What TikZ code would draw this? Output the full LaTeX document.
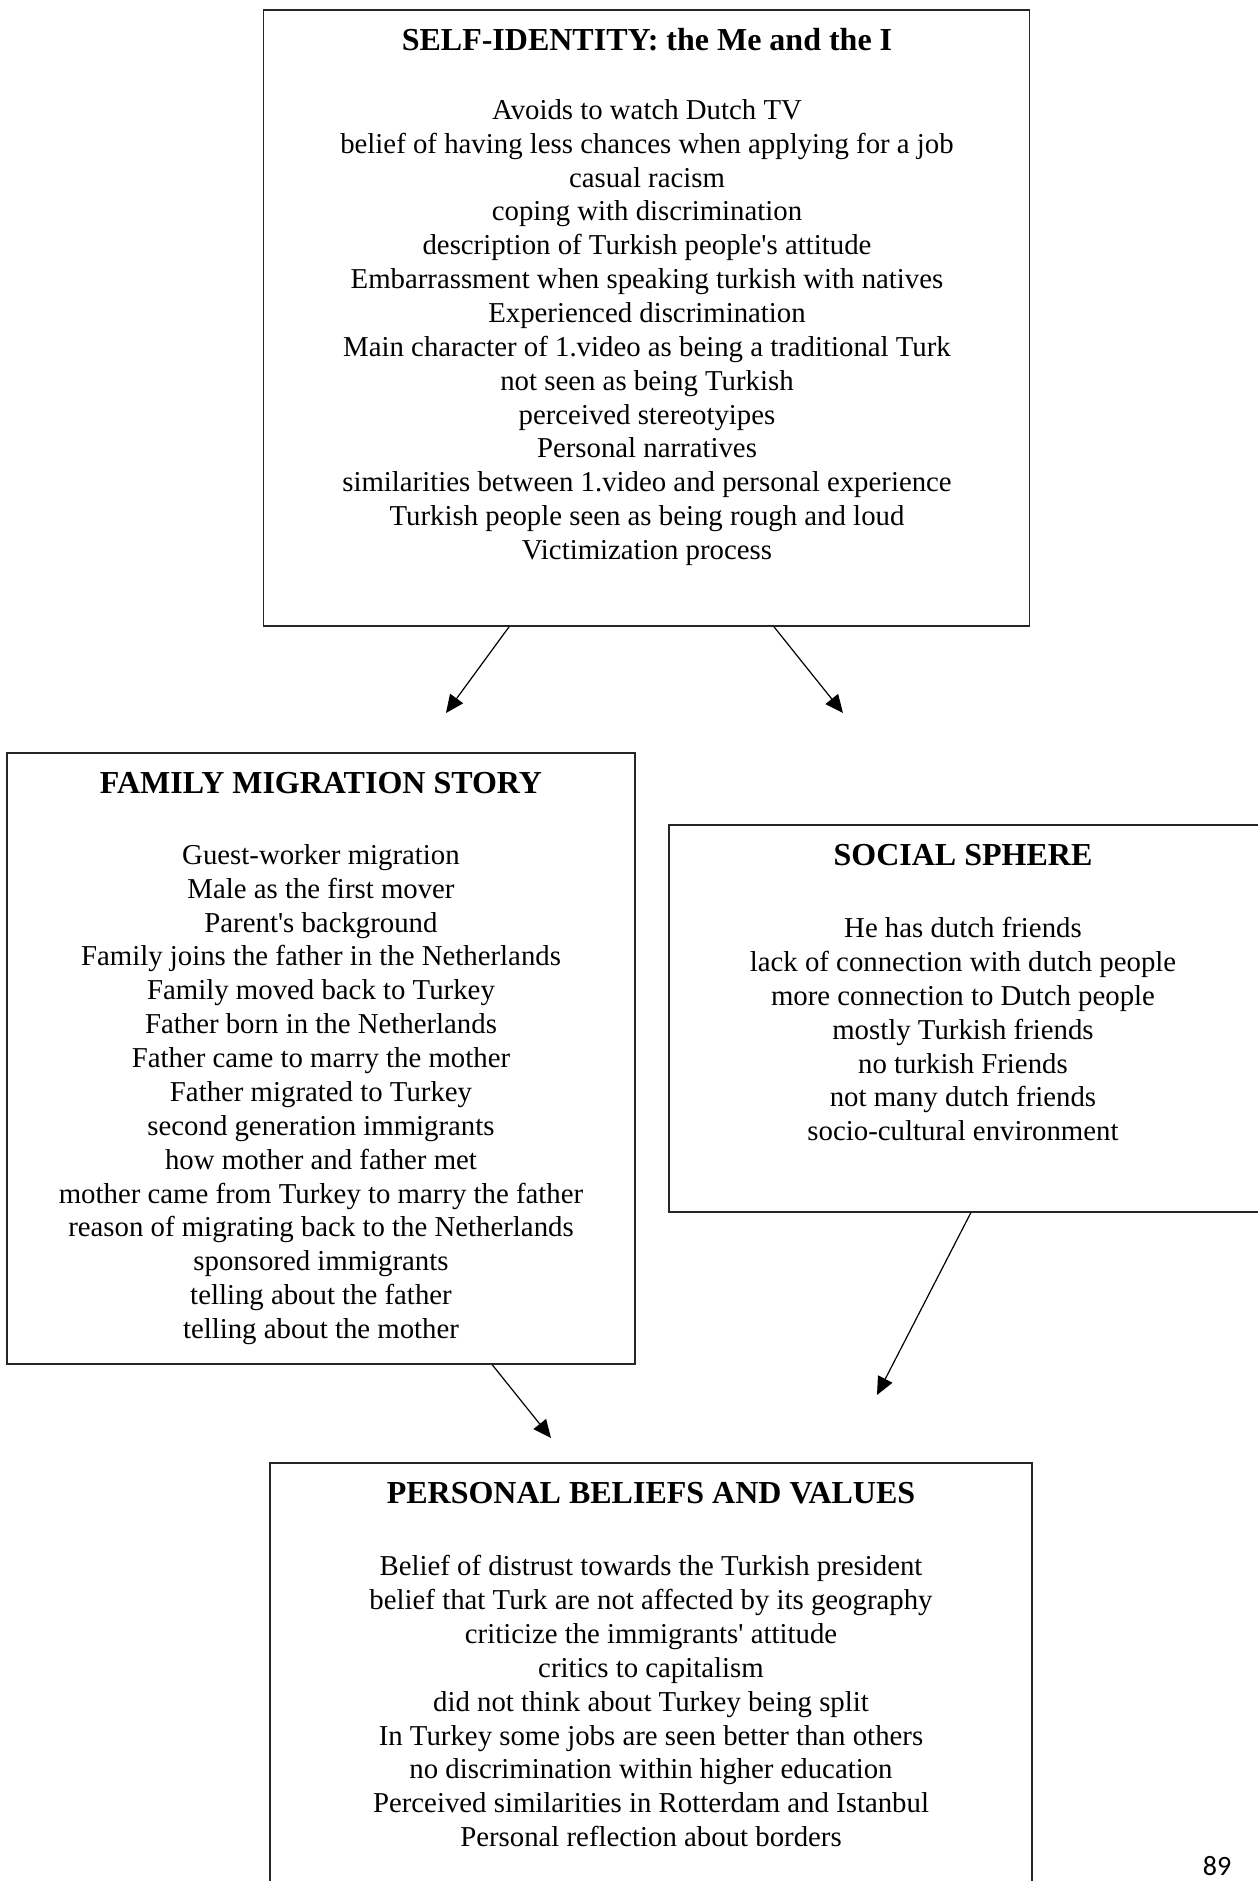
\documentclass[tikz,border=0pt]{standalone}
\usepackage{fontspec}
\setmainfont{Liberation Serif}
\newfontfamily\pagefont{Carlito}
\usepackage{tikz}
\usetikzlibrary{arrows.meta,calc}

\tikzset{
  box/.style={draw=black!85, line width=0.7pt, inner sep=0pt},
  boxtitle/.style={font=\fontsize{16}{19}\selectfont\bfseries, anchor=base},
  boxlist/.style={font=\fontsize{14.4}{16.93}\selectfont, align=center, anchor=north, inner sep=0pt},
  link/.style={-{Triangle[length=9pt,width=8pt]}, line width=0.6pt}
}

\begin{document}
\begin{tikzpicture}[x=0.5pt,y=-0.5pt]
\useasboundingbox (0,0) rectangle (1258,1881);

% Boxes
\node[box, minimum width=383pt, minimum height=308pt] (self) at (646.5,318) {};
\node[box, minimum width=314pt, minimum height=305.5pt] (family) at (321,1058.5) {};
\node[box, minimum width=296.5pt, minimum height=193.5pt] (social) at (965.5,1018.5) {};
\node[box, minimum width=381pt, minimum height=218.5pt] (beliefs) at (651,1681.5) {};

% Titles
\node[boxtitle] (selftitle) at (647,50) {SELF-IDENTITY: the Me and the I};
\node[boxtitle] (familytitle) at (321,793) {FAMILY MIGRATION STORY};
\node[boxtitle] (socialtitle) at (963,865) {SOCIAL SPHERE};
\node[boxtitle] (beliefstitle) at (651,1503) {PERSONAL BELIEFS AND VALUES};

% Codes
\node[boxlist] (selflist) at (647,99) {
Avoids to watch Dutch TV \\
belief of having less chances when applying for a job \\
casual racism \\
coping with discrimination \\
description of Turkish people\textquotesingle s attitude \\
Embarrassment when speaking turkish with natives \\
Experienced discrimination \\
Main character of 1.video as being a traditional Turk \\
not seen as being Turkish \\
perceived stereotyipes \\
Personal narratives \\
similarities between 1.video and personal experience \\
Turkish people seen as being rough and loud \\
Victimization process
};

\node[boxlist] (familylist) at (321,844) {
Guest-worker migration \\
Male as the first mover \\
Parent\textquotesingle s background \\
Family joins the father in the Netherlands \\
Family moved back to Turkey \\
Father born in the Netherlands \\
Father came to marry the mother \\
Father migrated to Turkey \\
second generation immigrants \\
how mother and father met \\
mother came from Turkey to marry the father \\
reason of migrating back to the Netherlands \\
sponsored immigrants \\
telling about the father \\
telling about the mother
};

\node[boxlist] (sociallist) at (963,917) {
He has dutch friends \\
lack of connection with dutch people \\
more connection to Dutch people \\
mostly Turkish friends \\
no turkish Friends \\
not many dutch friends \\
socio-cultural environment
};

\node[boxlist] (beliefslist) at (651,1555) {
Belief of distrust towards the Turkish president \\
belief that Turk are not affected by its geography \\
criticize the immigrants\textquotesingle\ attitude \\
critics to capitalism \\
did not think about Turkey being split \\
In Turkey some jobs are seen better than others \\
no discrimination within higher education \\
Perceived similarities in Rotterdam and Istanbul \\
Personal reflection about borders
};

% Arrow ends
\coordinate (famtip) at (446,713);
\coordinate (soctip) at (843,713);
\coordinate (beltipL) at (551,1438);
\coordinate (beltipR) at (877,1395);

% Arrows
\draw[link] ($(self.south west)!0.321!(self.south east)$) -- (famtip);
\draw[link] ($(self.south west)!0.666!(self.south east)$) -- (soctip);
\draw[link] ($(family.south west)!0.772!(family.south east)$) -- (beltipL);
\draw[link] ($(social.south west)!0.509!(social.south east)$) -- (beltipR);

% Page number
\node[font=\pagefont\fontsize{14}{16}\selectfont] (pagenum) at (1217,1866) {89};

\end{tikzpicture}
\end{document}
